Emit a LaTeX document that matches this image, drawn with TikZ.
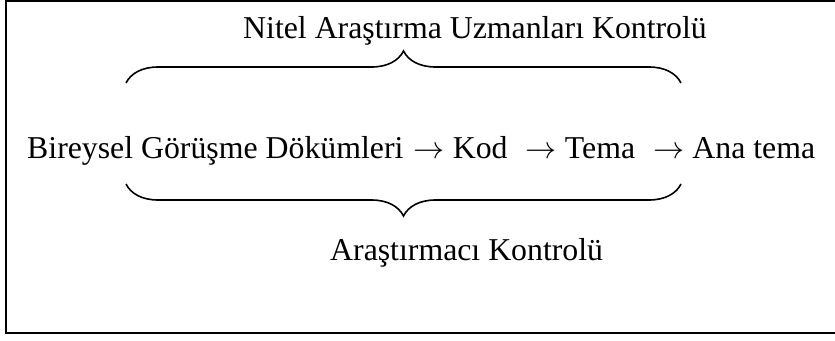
\documentclass[tikz,border=0pt]{standalone}
\usepackage{graphicx}
\usepackage{fontspec}
\setmainfont{Liberation Serif}
\usetikzlibrary{decorations.pathreplacing}
\tikzset{
  label text/.style={inner sep=0pt, anchor=base west, font=\fontsize{31.8}{36}\selectfont},
  curly/.style={line width=1.6pt, decorate, decoration={brace, amplitude=32pt}},
  frame line/.style={line width=2pt}
}
\newcommand{\flowarrow}{\hspace{2pt}\resizebox{31pt}{!}{$\rightarrow$}\hspace{0.5pt}}
\begin{document}
\begin{tikzpicture}[x=1pt, y=-1pt]
  \useasboundingbox (0,0) rectangle (835,340);
  \clip (0,0) rectangle (835,340);
  \fill[white] (0,0) rectangle (835,340);
  % outer frame (open to the right)
  \draw[frame line] (5.5,1) rectangle (850,333);
  % texts
  \node[label text] (top) at (243,38) {Nitel Araştırma Uzmanları Kontrolü};
  \node[label text] (flow) at (27,158) {Bireysel Görüşme Dökümleri \flowarrow{} Kod \ \flowarrow{} Tema \ \flowarrow{} Ana tema};
  \node[label text] (bottom) at (330,260) {Araştırmacı Kontrolü};
  % brace ends
  \coordinate (tl) at (126,83);
  \coordinate (tr) at (681,83);
  \coordinate (bl) at (126,184);
  \coordinate (br) at (681,184);
  \draw[curly] (tl) -- (tr);
  \draw[curly] (br) -- (bl);
\end{tikzpicture}
\end{document}
